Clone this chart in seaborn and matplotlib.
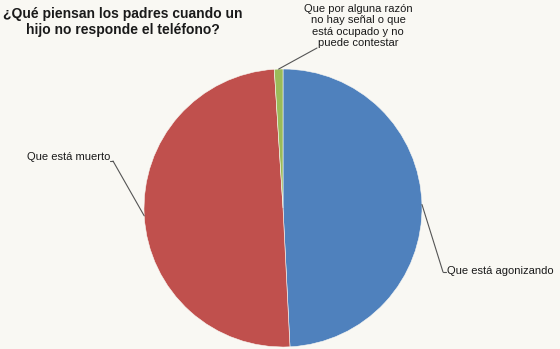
import matplotlib
matplotlib.use("Agg")
import matplotlib.pyplot as plt
import seaborn as sns
import numpy as np

categories = ["Que está agonizando", "Que está muerto",
              "Que por alguna razón\nno hay señal o que\nestá ocupado y no\npuede contestar"]
values = [49.2, 49.8, 1.0]
colors = ["#4F81BD", "#C0504D", "#9BBB59"]
title = "¿Qué piensan los padres cuando un\nhijo no responde el teléfono?"

sns.set_style("white")
plt.rcParams['font.family'] = ['Liberation Sans', 'DejaVu Sans']

W, H = 560, 349
fig = plt.figure(figsize=(W / 100, H / 100), dpi=100, facecolor="#F9F8F3")
cx, cy, r = 283, 208, 139
ax = fig.add_axes([(cx - r) / W, (H - cy - r) / H, 2 * r / W, 2 * r / H])
ax.set_facecolor("none")
wedges, _ = ax.pie(values, colors=colors, startangle=90, counterclock=False,
                   radius=1, wedgeprops=dict(edgecolor="#F9F8F3", linewidth=0.4))
ax.set_xlim(-1, 1)
ax.set_ylim(-1, 1)
ax.axis("off")

# label positions (figure pixels, top-origin) and alignment
label_pos = [(447, 271, "left", "center"), (110, 157, "right", "center"), (358, 26, "center", "center")]
line_end = [(443, 272), (113, 161), (317, 48)]
for w, lab, (lx, ly, ha, va), (ex, ey) in zip(wedges, categories, label_pos, line_end):
    ang = np.deg2rad((w.theta1 + w.theta2) / 2)
    px = cx + r * np.cos(ang)
    py = cy - r * np.sin(ang)
    fig.add_artist(plt.Line2D([px / W, ex / W], [1 - py / H, 1 - ey / H],
                              transform=fig.transFigure, color="#555555", lw=0.8))
    if ha != "center":
        dx = 3 if ha == "left" else -3
        fig.add_artist(plt.Line2D([ex / W, (ex + dx) / W], [1 - ey / H, 1 - ey / H],
                                  transform=fig.transFigure, color="#555555", lw=0.8))
    fig.text(lx / W, 1 - ly / H, lab, ha=ha, va=va, fontsize=8,
             color="#1a1a1a", linespacing=1.13, multialignment="center")

fig.text(123 / W, 1 - 22 / H, title, ha="center", va="center", fontsize=10,
         fontweight="bold", color="#1a1a1a", linespacing=1.15)

fig.savefig("out.png", dpi=100, facecolor=fig.get_facecolor())
